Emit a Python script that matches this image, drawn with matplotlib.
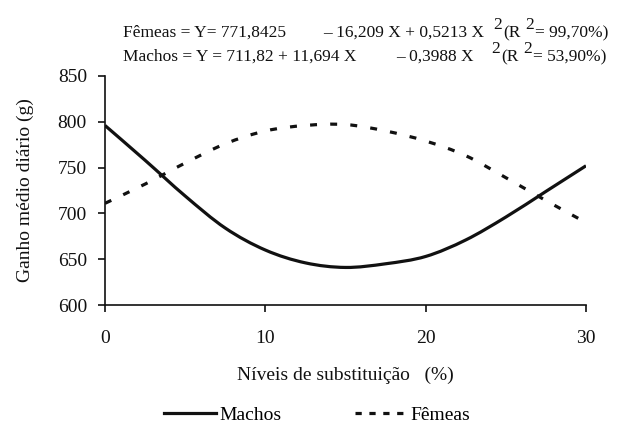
import matplotlib
matplotlib.use("Agg")
import matplotlib.pyplot as plt
from matplotlib.lines import Line2D
from matplotlib.path import Path
from matplotlib.patches import PathPatch

plt.rcParams['font.family'] = ['Liberation Serif', 'DejaVu Serif']
plt.rcParams['lines.scale_dashes'] = False

# Data
niveis = [0, 2.5, 5, 7.5, 10, 12.5, 15, 17.5, 20, 22.5, 25, 27.5, 30]
machos = [796, 758, 719, 684, 660, 646, 641, 645, 653, 671, 696, 724, 752]
femeas = [711, 732, 755, 776, 790, 796, 797, 790, 779, 763, 739, 714, 690]

xticks = [0, 10, 20, 30]
yticks = [600, 650, 700, 750, 800, 850]

INK = '#111111'
W, H = 618, 432
fig = plt.figure(figsize=(W / 100, H / 100), dpi=100)
ax = fig.add_axes([105 / W, 1 - 305 / H, (586 - 105) / W, (305 - 76) / H])


def smooth_path(xs, ys):
    """Smoothed line through the data points (spreadsheet-style Bezier)."""
    pts = list(zip(xs, ys))
    n = len(pts)
    verts = [pts[0]]
    codes = [Path.MOVETO]
    for i in range(n - 1):
        p0 = pts[i - 1] if i > 0 else pts[i]
        p1 = pts[i]
        p2 = pts[i + 1]
        p3 = pts[i + 2] if i + 2 < n else pts[i + 1]
        c1 = (p1[0] + (p2[0] - p0[0]) / 6, p1[1] + (p2[1] - p0[1]) / 6)
        c2 = (p2[0] - (p3[0] - p1[0]) / 6, p2[1] - (p3[1] - p1[1]) / 6)
        verts += [c1, c2, p2]
        codes += [Path.CURVE4] * 3
    return Path(verts, codes)


lw = 2.3
ax.add_patch(PathPatch(smooth_path(niveis, machos), fill=False, edgecolor=INK, lw=lw,
                       capstyle='butt', transform=ax.transData))
ax.add_patch(PathPatch(smooth_path(niveis, femeas), fill=False, edgecolor=INK, lw=lw,
                       linestyle=(0, (5, 9.5)), capstyle='butt', transform=ax.transData))

ax.set_xlim(0, 30)
ax.set_ylim(600, 850)
ax.set_xticks(xticks)
ax.set_yticks(yticks)
for s in ['top', 'right']:
    ax.spines[s].set_visible(False)
for s in ['left', 'bottom']:
    ax.spines[s].set_linewidth(1.2)
    ax.spines[s].set_color(INK)
ax.tick_params(axis='both', direction='out', width=1.2, color=INK,
               labelsize=14, labelcolor=INK)
ax.tick_params(axis='y', length=5, pad=8)
ax.tick_params(axis='x', length=5, pad=13)

ax.set_xlabel('Níveis de substituição   (%)', fontsize=14, labelpad=14, color=INK)
ax.set_ylabel('Ganho médio diário (g)', fontsize=14, labelpad=17, color=INK)

handles = [Line2D([], [], color=INK, lw=lw),
           Line2D([], [], color=INK, lw=lw, linestyle=(0, (4.5, 5.5)))]
fig.legend(handles, ['Machos', 'Fêmeas'], loc='center', bbox_to_anchor=(317 / W, 1 - 415 / H),
           ncol=2, frameon=False, fontsize=14, handlelength=2.7, handletextpad=0.15,
           columnspacing=3.8)

# Equation text
fs = 12.5
def t(xp, yp, s, size=fs):
    fig.text(xp / W, 1 - yp / H, s, fontsize=size, ha='left', va='baseline', color=INK)

b1, b2 = 37, 61
t(123, b1, 'Fêmeas = Y= 771,8425')
t(323, b1, '– 16,209 X + 0,5213 X')
t(493, b1 - 8, '2')
t(503, b1, '(R')
t(525, b1 - 8, '2')
t(535, b1, '= 99,70%)')

t(123, b2, 'Machos = Y = 711,82 + 11,694 X')
t(396, b2, '– 0,3988 X')
t(491, b2 - 8, '2')
t(501, b2, '(R')
t(523, b2 - 8, '2')
t(533, b2, '= 53,90%)')

fig.savefig('out.png', dpi=100)
